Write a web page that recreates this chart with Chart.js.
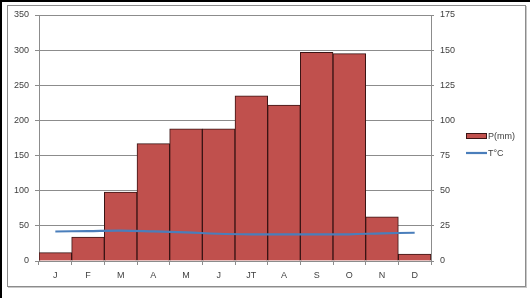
<!DOCTYPE html>
<html>
<head>
<meta charset="utf-8">
<script src="https://cdn.jsdelivr.net/npm/chart.js@4"></script>
<style>
  body { margin: 0; background: #fff; }
  #wrap { position: relative; width: 530px; height: 298px; overflow: hidden; background: #fff; }
  #frame { position: absolute; left: 7px; top: 5px; width: 517px; height: 280px; border: 1px solid #8c8c8c; box-shadow: 1px 1px 0 #c8c8c8; }
  #edgeL { position: absolute; left: 0; top: 0; width: 2px; height: 298px; background: #000; }
  #edgeT { position: absolute; left: 0; top: 0; width: 530px; height: 2px; background: #000; }
  canvas { position: absolute; left: 0; top: 0; }
</style>
</head>
<body>
<div id="wrap">
  <div id="frame"></div>
  <div id="edgeL"></div>
  <div id="edgeT"></div>
  <canvas id="chart" width="530" height="298"></canvas>
</div>
<script>
// data
const months = ['J', 'F', 'M', 'A', 'M', 'J', 'JT', 'A', 'S', 'O', 'N', 'D'];
const rain = [12, 34, 98, 167, 188, 188, 235, 222, 297, 295, 63, 10];
const temp = [21, 21.3, 21.6, 21.1, 20.4, 19.4, 19, 19, 19, 19, 19.7, 20.1];
const rainMax = 350, rainStep = 50;
const tempMax = 175, tempStep = 25;

const textColor = '#404040';
const gridColor = '#8c8c8c';
Chart.defaults.font.family = 'Liberation Sans';
Chart.defaults.font.size = 9;
Chart.defaults.color = textColor;

// legend drawn by hand so it sits where the Excel one does
const sideLegend = {
    id: 'sideLegend',
    afterDraw(chart) {
        const ctx = chart.ctx;
        const a = chart.chartArea;
        const x = a.right + 35;
        const y = a.top + 121;
        ctx.save();
        ctx.fillStyle = '#C0504D';
        ctx.strokeStyle = '#3a1414';
        ctx.lineWidth = 1;
        ctx.fillRect(x, y - 2.5, 20, 5);
        ctx.strokeRect(x + 0.5, y - 2.5, 20, 5);
        ctx.strokeStyle = '#4A7EBB';
        ctx.lineWidth = 2.2;
        ctx.beginPath();
        ctx.moveTo(x, y + 17);
        ctx.lineTo(x + 21, y + 17);
        ctx.stroke();
        ctx.fillStyle = textColor;
        ctx.font = '9px Liberation Sans';
        ctx.textBaseline = 'middle';
        ctx.fillText(chart.data.datasets[0].label, x + 22, y + 0.5);
        ctx.fillText(chart.data.datasets[1].label, x + 22, y + 17.5);
        ctx.restore();
    }
};

new Chart(document.getElementById('chart'), {
    data: {
        labels: months,
        datasets: [{
            type: 'bar',
            label: 'P(mm)',
            data: rain,
            yAxisID: 'y',
            backgroundColor: '#C0504D',
            borderColor: '#3a1414',
            borderWidth: 1,
            barPercentage: 1,
            categoryPercentage: 1,
            order: 1
        }, {
            type: 'line',
            label: 'T°C',
            data: temp,
            yAxisID: 'y1',
            borderColor: '#4A7EBB',
            borderWidth: 2.2,
            pointRadius: 0,
            tension: 0.4,
            fill: false,
            order: 0
        }]
    },
    options: {
        responsive: false,
        animation: false,
        layout: { padding: { left: 0, top: 15, right: 59, bottom: 11 } },
        plugins: {
            legend: { display: false },
            tooltip: { enabled: false }
        },
        scales: {
            x: {
                grid: { offset: true, drawOnChartArea: false, tickLength: 4, color: gridColor },
                border: { color: gridColor },
                ticks: { padding: 5 },
                afterFit: (s) => { s.height = 26; }
            },
            y: {
                position: 'left',
                min: 0,
                max: rainMax,
                ticks: { stepSize: rainStep, padding: 6 },
                grid: { color: gridColor, tickLength: 4 },
                border: { color: gridColor },
                afterFit: (s) => { s.width = 39; }
            },
            y1: {
                position: 'right',
                min: 0,
                max: tempMax,
                ticks: { stepSize: tempStep, padding: 6 },
                grid: { drawOnChartArea: false, color: gridColor, tickLength: 3 },
                border: { color: gridColor },
                afterFit: (s) => { s.width = 40; }
            }
        }
    },
    plugins: [sideLegend]
});
</script>
</body>
</html>
